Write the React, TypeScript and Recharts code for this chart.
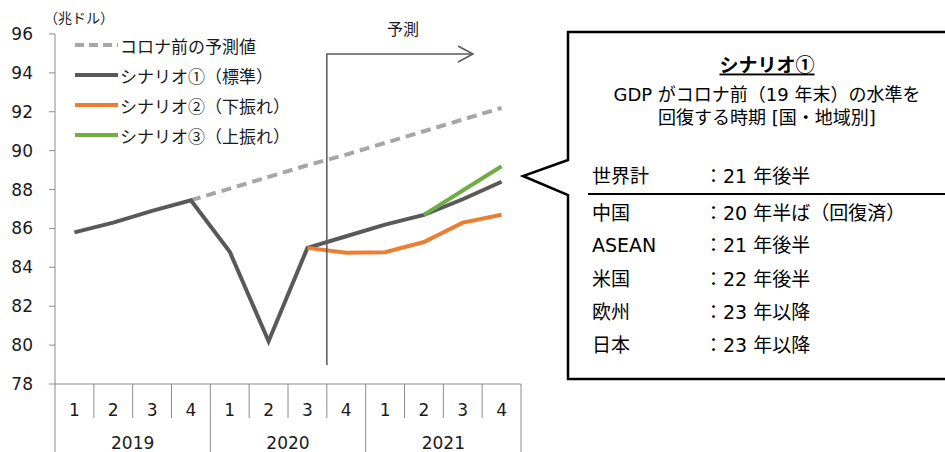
import React from 'react';
import { LineChart, Line, XAxis, YAxis, Legend } from 'recharts';

// ---------- data ----------
const quarters = ['1', '2', '3', '4', '1', '2', '3', '4', '1', '2', '3', '4'];
const years = ['2019', '2020', '2021'];
const preCovid = [null, null, null, 87.45, 88.05, 88.65, 89.25, 89.8, 90.4, 91.0, 91.6, 92.2];
const scenario1 = [85.8, 86.3, 86.9, 87.45, 84.8, 80.2, 85.0, 85.6, 86.2, 86.7, 87.5, 88.4];
const scenario2 = [null, null, null, null, null, null, 85.0, 84.75, 84.78, 85.3, 86.3, 86.7];
const scenario3 = [null, null, null, null, null, null, null, null, null, 86.7, 87.95, 89.2];
const yTicks = [78, 80, 82, 84, 86, 88, 90, 92, 94, 96];
const unitLabel = '（兆ドル）';
const forecastLabel = '予測';
const forecastStartIndex = 7;

const seriesNames = ['コロナ前の予測値', 'シナリオ①（標準）', 'シナリオ②（下振れ）', 'シナリオ③（上振れ）'];
const seriesKeys = ['pre', 's1', 's2', 's3'];
const seriesColors = ['#A6A6A6', '#595959', '#ED7D31', '#70AD47'];
const seriesDash = ['10 6', undefined, undefined, undefined];

const boxTitle = 'シナリオ①';
const boxLines = ['GDP がコロナ前（19 年末）の水準を', '回復する時期  [国・地域別]'];
const regions = ['世界計', '中国', 'ASEAN', '米国', '欧州', '日本'];
const timings = ['21 年後半', '20 年半ば（回復済）', '21 年後半', '22 年後半', '23 年以降', '23 年以降'];

const data = quarters.map((q, i) => ({
  key: years[Math.floor(i / 4)] + 'Q' + q,
  pre: preCovid[i],
  s1: scenario1[i],
  s2: scenario2[i],
  s3: scenario3[i],
}));

// ---------- layout ----------
const W = 945;
const H = 452;
const PLOT_LEFT = 55;
const PLOT_RIGHT = 521;
const PLOT_TOP = 34;
const X_AXIS_H = 68;
const BAND = (PLOT_RIGHT - PLOT_LEFT) / quarters.length;
const FONT = "'DejaVu Sans', 'Noto Sans CJK JP', sans-serif";
const JP_FONT = "'Noto Sans CJK JP', 'DejaVu Sans', sans-serif";
const AXIS_COLOR = '#8C8C8C';
const TEXT_COLOR = '#1a1a1a';

const QuarterTick = (props: any) => {
  const { x, y, index } = props;
  const half = BAND / 2;
  const isYearStart = index % 4 === 0;
  const last = index === quarters.length - 1;
  return (
    <g>
      <text x={x} y={y + 26} textAnchor="middle" dominantBaseline="central" fontSize={17} fill={TEXT_COLOR} fontFamily={FONT}>
        {quarters[index]}
      </text>
      <line x1={x - half} x2={x - half} y1={y} y2={y + (isYearStart ? X_AXIS_H : 34)} stroke={AXIS_COLOR} strokeWidth={1} />
      {last && <line x1={x + half} x2={x + half} y1={y} y2={y + X_AXIS_H} stroke={AXIS_COLOR} strokeWidth={1} />}
      {index % 4 === 1 && (
        <text x={x + half} y={y + 59} textAnchor="middle" dominantBaseline="central" fontSize={17} fill={TEXT_COLOR} fontFamily={FONT}>
          {years[Math.floor(index / 4)]}
        </text>
      )}
    </g>
  );
};

const LegendContent = () => (
  <div style={{ fontFamily: JP_FONT, fontSize: 17, color: TEXT_COLOR }}>
    {seriesNames.map((n, i) => (
      <div key={n} style={{ display: 'flex', alignItems: 'center', height: 30, whiteSpace: 'nowrap' }}>
        <svg width={46} height={10} style={{ display: 'block' }}>
          <line x1={3} x2={46} y1={5} y2={5} stroke={seriesColors[i]} strokeWidth={4} strokeDasharray={seriesDash[i] ? '9 5' : undefined} />
        </svg>
        <span style={{ marginLeft: 2 }}>{n}</span>
      </div>
    ))}
  </div>
);

export default function App() {
  const fx = PLOT_LEFT + forecastStartIndex * BAND;
  const boxL = 568;
  const boxT = 32;
  const boxB = 379;
  const cx = 767;
  const rowYs = [176, 213, 245, 279, 312, 345];
  return (
    <div style={{ position: 'absolute', left: 0, top: 0, width: W, height: H, background: '#fff' }}>
      <LineChart
        width={W}
        height={H}
        data={data}
        margin={{ top: PLOT_TOP, right: W - PLOT_RIGHT, bottom: 0, left: 0 }}
        style={{ fontFamily: FONT }}
      >
        <XAxis
          dataKey="key"
          interval={0}
          height={X_AXIS_H}
          padding={{ left: BAND / 2, right: BAND / 2 }}
          tickLine={false}
          tickSize={0}
          tickMargin={0}
          axisLine={{ stroke: AXIS_COLOR, strokeWidth: 1 }}
          tick={<QuarterTick />}
        />
        <YAxis
          width={PLOT_LEFT}
          domain={[78, 96]}
          ticks={yTicks}
          interval={0}
          tickSize={6}
          tickMargin={16}
          axisLine={{ stroke: AXIS_COLOR, strokeWidth: 1 }}
          tickLine={{ stroke: AXIS_COLOR, strokeWidth: 1 }}
          tick={{ fontSize: 17, fill: TEXT_COLOR, fontFamily: FONT }}
        />
        <Legend
          layout="vertical"
          verticalAlign="middle"
          align="center"
          content={<LegendContent />}
          wrapperStyle={{ left: 72, top: 30, width: 'auto', height: 'auto' }}
        />
        {seriesKeys.map((k, i) => (
          <Line
            key={k}
            dataKey={k}
            name={seriesNames[i]}
            type="linear"
            stroke={seriesColors[i]}
            strokeWidth={4}
            strokeDasharray={seriesDash[i]}
            dot={false}
            activeDot={false}
            isAnimationActive={false}
            connectNulls={false}
            strokeLinejoin="miter"
          />
        ))}
      </LineChart>
      <svg width={W} height={H} style={{ position: 'absolute', left: 0, top: 0, pointerEvents: 'none' }} fontFamily={FONT}>
        <text x={44} y={17} fontSize={14} fill={TEXT_COLOR} dominantBaseline="central" fontFamily={JP_FONT}>{unitLabel}</text>
        {/* forecast arrow */}
        <polyline points={`${fx},365 ${fx},54 473,54`} fill="none" stroke="#595959" strokeWidth={1.5} />
        <polyline points="458,46 473,54 458,62" fill="none" stroke="#595959" strokeWidth={1.5} />
        <text x={403} y={28} fontSize={16} textAnchor="middle" dominantBaseline="central" fill={TEXT_COLOR} fontFamily={JP_FONT}>{forecastLabel}</text>
        {/* callout */}
        <path
          d={`M 960 ${boxT} L ${boxL} ${boxT} L ${boxL} 160 L 523 176 L ${boxL} 195 L ${boxL} ${boxB} L 960 ${boxB}`}
          fill="#fff"
          stroke="#000"
          strokeWidth={2.5}
        />
        <text x={cx} y={63} fontSize={19} fontWeight="bold" textAnchor="middle" dominantBaseline="central" fill="#000" textDecoration="underline" fontFamily={JP_FONT}>
          {boxTitle}
        </text>
        {boxLines.map((t, i) => (
          <text key={t} x={cx} y={94 + i * 23} fontSize={18} textAnchor="middle" dominantBaseline="central" fill="#000">{t}</text>
        ))}
        <line x1={588} x2={960} y1={194} y2={194} stroke="#000" strokeWidth={2} />
        {regions.map((r, i) => (
          <g key={r}>
            <text x={592} y={rowYs[i]} fontSize={19} dominantBaseline="central" fill="#000">{r}</text>
            <text x={704} y={rowYs[i]} fontSize={19} dominantBaseline="central" fill="#000">{'：' + timings[i]}</text>
          </g>
        ))}
      </svg>
    </div>
  );
}
